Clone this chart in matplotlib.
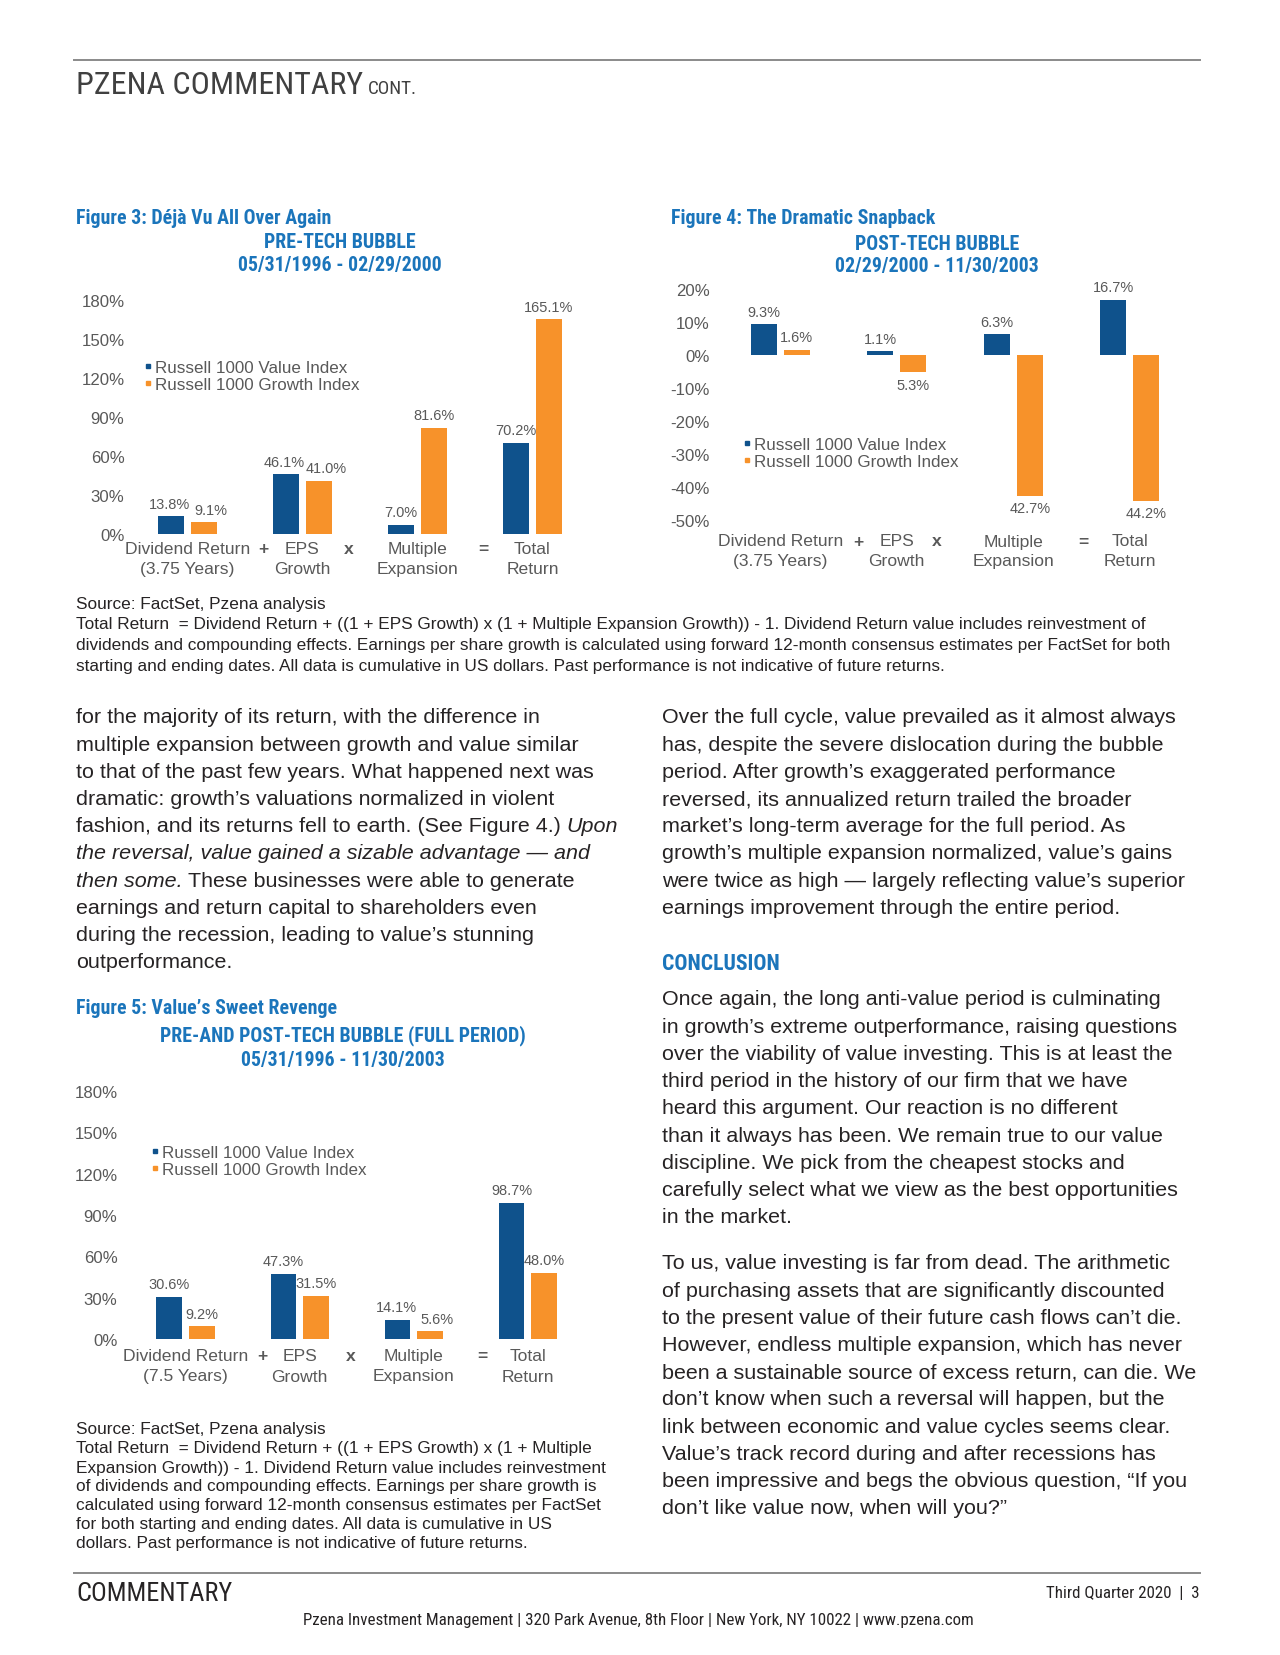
import matplotlib
matplotlib.use("Agg")
import matplotlib.pyplot as plt
from matplotlib import font_manager
from matplotlib.font_manager import FontProperties
from matplotlib.textpath import TextPath
from matplotlib.lines import Line2D
import matplotlib.transforms as mtransforms

# ---- data -------------------------------------------------------------
series_names = ["Russell 1000 Value Index", "Russell 1000 Growth Index"]
cat_top = ["Dividend Return", "EPS", "Multiple", "Total"]
cat_bottom_rest = ["Growth", "Expansion", "Return"]
operators = ["+", "x", "="]

pre_years = "(3.75 Years)"
pre_value = [13.8, 46.1, 7.0, 70.2]
pre_growth = [9.1, 41.0, 81.6, 165.1]
pre_ticks = [0, 30, 60, 90, 120, 150, 180]

post_years = "(3.75 Years)"
post_value = [9.3, 1.1, 6.3, 16.7]
post_growth = [1.6, -5.3, -42.7, -44.2]
post_ticks = [-50, -40, -30, -20, -10, 0, 10, 20]

full_years = "(7.5 Years)"
full_value = [30.6, 47.3, 14.1, 98.7]
full_growth = [9.2, 31.5, 5.6, 48.0]
full_ticks = [0, 30, 60, 90, 120, 150, 180]

left_text = [
    [("for the majority of its return, with the difference in", "normal")],
    [("multiple expansion between growth and value similar", "normal")],
    [("to that of the past few years. What happened next was", "normal")],
    [("dramatic: growth\u2019s valuations normalized in violent", "normal")],
    [("fashion, and its returns fell to earth. (See Figure 4.)", "normal"), ("Upon", "italic")],
    [("the reversal, value gained a sizable advantage \u2014 and", "italic")],
    [("then some.", "italic"), ("These businesses were able to generate", "normal")],
    [("earnings and return capital to shareholders even", "normal")],
    [("during the recession, leading to value\u2019s stunning", "normal")],
    [("outperformance.", "normal")],
]
right_para1 = [
    "Over the full cycle, value prevailed as it almost always",
    "has, despite the severe dislocation during the bubble",
    "period. After growth\u2019s exaggerated performance",
    "reversed, its annualized return trailed the broader",
    "market\u2019s long-term average for the full period. As",
    "growth\u2019s multiple expansion normalized, value\u2019s gains",
    "were twice as high \u2014 largely reflecting value\u2019s superior",
    "earnings improvement through the entire period.",
]
right_para2 = [
    "Once again, the long anti-value period is culminating",
    "in growth\u2019s extreme outperformance, raising questions",
    "over the viability of value investing. This is at least the",
    "third period in the history of our firm that we have",
    "heard this argument. Our reaction is no different",
    "than it always has been. We remain true to our value",
    "discipline. We pick from the cheapest stocks and",
    "carefully select what we view as the best opportunities",
    "in the market.",
]
right_para3 = [
    "To us, value investing is far from dead. The arithmetic",
    "of purchasing assets that are significantly discounted",
    "to the present value of their future cash flows can\u2019t die.",
    "However, endless multiple expansion, which has never",
    "been a sustainable source of excess return, can die. We",
    "don\u2019t know when such a reversal will happen, but the",
    "link between economic and value cycles seems clear.",
    "Value\u2019s track record during and after recessions has",
    "been impressive and begs the obvious question, \u201cIf you",
    "don\u2019t like value now, when will you?\u201d",
]
source_top = [
    "Source: FactSet, Pzena analysis",
    "Total Return  = Dividend Return + ((1 + EPS Growth) x (1 + Multiple Expansion Growth)) - 1. Dividend Return value includes reinvestment of",
    "dividends and compounding effects. Earnings per share growth is calculated using forward 12-month consensus estimates per FactSet for both",
    "starting and ending dates. All data is cumulative in US dollars. Past performance is not indicative of future returns.",
]
source_bottom = [
    "Source: FactSet, Pzena analysis",
    "Total Return  = Dividend Return + ((1 + EPS Growth) x (1 + Multiple",
    "Expansion Growth)) - 1. Dividend Return value includes reinvestment",
    "of dividends and compounding effects. Earnings per share growth is",
    "calculated using forward 12-month consensus estimates per FactSet",
    "for both starting and ending dates. All data is cumulative in US",
    "dollars. Past performance is not indicative of future returns.",
]

# ---- style ------------------------------------------------------------
W, H, DPI = 1280, 1656, 100
BLUE_BAR = "#0F528C"
ORANGE = "#F7922A"
TITLE_BLUE = "#1B75BB"
GREY = "#595959"
INK = "#262324"

names = {f.name for f in font_manager.fontManager.ttflist}
BODY = "Liberation Sans"
COND = next((n for n in ["Liberation Sans Narrow", "Roboto Condensed", "Open Sans Condensed"]
             if n in names), "Liberation Sans")


def fit(sample, px, family=BODY, weight="normal", style="normal"):
    fp = FontProperties(family=family, weight=weight, style=style, size=10)
    w = TextPath((0, 0), sample, prop=fp).get_extents().width
    return 10 * px / (w * DPI / 72)


fig = plt.figure(figsize=(W / DPI, H / DPI), dpi=DPI)
fig.patch.set_facecolor("white")
renderer = fig.canvas.get_renderer()


def put(x, y, s, **kw):
    kw.setdefault("va", "center")
    return fig.text(x / W, 1 - y / H, s, **kw)


def runs(x, y, parts, size, family=BODY, color=INK):
    gap = size * 0.27 * DPI / 72
    for s, style in parts:
        t = put(x, y, s, fontsize=size, family=family, style=style, color=color)
        x += t.get_window_extent(renderer).width + gap


def hline(y, x0=74, x1=1200):
    fig.add_artist(Line2D([x0 / W, x1 / W], [1 - y / H, 1 - y / H],
                          color="#8a8a8a", lw=1.4, transform=fig.transFigure))


# ---- page header / footer ---------------------------------------------
hline(61)
hs = fit("PZENA COMMENTARY", 284, COND)
t = put(76, 85, "PZENA COMMENTARY", fontsize=hs, family=COND, color="#404040")
x_end = 76 + t.get_window_extent(renderer).width + 5
put(x_end, 89, "CONT.", fontsize=hs * 0.6, family=COND, color="#404040")

hline(1574)
put(76, 1594, "COMMENTARY", fontsize=fit("COMMENTARY", 154, COND), family=COND, color=INK)
put(1200, 1594, "Third Quarter 2020  |  3", ha="right",
    fontsize=fit("Third Quarter 2020  |  3", 151, COND), family=COND, color=INK)
foot = "Pzena Investment Management | 320 Park Avenue, 8th Floor | New York, NY 10022 | www.pzena.com"
put(638, 1621, foot, ha="center", fontsize=fit(foot, 666, COND), family=COND, color=INK)

# ---- charts -----------------------------------------------------------
title_fs = fit("Figure 3: D\u00e9j\u00e0 Vu All Over Again", 253, COND, "bold")
tick_fs = fit("180%", 41)
val_fs = fit("81.6%", 40)
cat_fs = fit("Dividend Return", 123)
leg_fs = fit(series_names[0], 190)


def chart(box, ylim, ticks, value, growth, years, op_x, cat_y, legend_xy, pad):
    left, top, right, bottom = box
    ax = fig.add_axes([left / W, 1 - bottom / H, (right - left) / W, (bottom - top) / H])
    x = range(len(value))
    off, bw = 0.143, 0.224
    ax.bar([i - off for i in x], value, bw, color=BLUE_BAR)
    ax.bar([i + off for i in x], growth, bw, color=ORANGE)
    px_per_unit = (bottom - top) / (ylim[1] - ylim[0])
    for i in x:
        # push the two labels apart when they would sit at the same height
        close = abs(value[i] - growth[i]) * px_per_unit < 14 and value[i] * growth[i] > 0
        shifts = (-1, 5) if close else (0, 0)
        for v, sgn, dx in ((value[i], -1, shifts[0]), (growth[i], 1, shifts[1])):
            ax.annotate(f"{abs(v):.1f}%", (i + sgn * off, v),
                        xytext=(dx, 4 if v >= 0 else -4), textcoords="offset points",
                        ha="center", va="bottom" if v >= 0 else "top",
                        fontsize=val_fs, color=GREY, family=BODY)
    ax.set_xlim(-0.5, len(value) - 0.5)
    ax.set_ylim(*ylim)
    ax.set_yticks(ticks)
    ax.set_yticklabels([f"{v}%" for v in ticks], fontsize=tick_fs, color=GREY, family=BODY)
    ax.tick_params(length=0, pad=pad)
    ax.set_xticks([])
    for s in ax.spines.values():
        s.set_visible(False)
    ax.patch.set_alpha(0)

    tr = mtransforms.blended_transform_factory(ax.transData, fig.transFigure)
    bottoms = [years] + cat_bottom_rest
    for i in x:
        ax.text(i, 1 - cat_y / H, cat_top[i], transform=tr, ha="center", va="center",
                fontsize=cat_fs, color=GREY, family=BODY)
        ax.text(i, 1 - (cat_y + 20) / H, bottoms[i], transform=tr, ha="center", va="center",
                fontsize=cat_fs, color=GREY, family=BODY)
    for ox, op in zip(op_x, operators):
        ax.text(ox, 1 - cat_y / H, op, transform=tr, ha="center", va="center",
                fontsize=cat_fs, color=GREY, family=BODY, weight="bold")

    handles = [Line2D([0], [0], marker="s", ls="none", markersize=3.5, color=c)
               for c in (BLUE_BAR, ORANGE)]
    ax.legend(handles, series_names, loc="upper left", frameon=False,
              bbox_to_anchor=(legend_xy[0] / W, 1 - legend_xy[1] / H),
              bbox_transform=fig.transFigure, handlelength=0.5,
              handletextpad=0.15, labelspacing=0.12, borderpad=0, borderaxespad=0,
              prop={"family": BODY, "size": leg_fs}, labelcolor=GREY)
    return ax


def titles(x_title, y_title, x_center, sub1, sub2, name, y1, y2):
    put(x_title, y_title, name, fontsize=title_fs, family=COND, weight="bold", color=TITLE_BLUE)
    put(x_center, y1, sub1, ha="center", fontsize=title_fs, family=COND, weight="bold", color=TITLE_BLUE)
    put(x_center, y2, sub2, ha="center", fontsize=title_fs, family=COND, weight="bold", color=TITLE_BLUE)


# Figure 3
titles(76, 219, 340, "PRE-TECH BUBBLE", "05/31/1996 - 02/29/2000",
       "Figure 3: D\u00e9j\u00e0 Vu All Over Again", 243, 266)
chart((130, 301, 590, 535), (0, 180), pre_ticks, pre_value, pre_growth, pre_years,
      (0.66, 1.40, 2.57), 550, (144, 361), 4)

# Figure 4
titles(671, 219, 937, "POST-TECH BUBBLE", "02/29/2000 - 11/30/2003",
       "Figure 4: The Dramatic Snapback", 244, 267)
chart((722, 290, 1188, 521), (-50, 20), post_ticks, post_value, post_growth, post_years,
      (0.67, 1.34, 2.60), 542, (743, 438), 9)

# Figure 5
titles(76, 1009, 343, "PRE-AND POST-TECH BUBBLE (FULL PERIOD)", "05/31/1996 - 11/30/2003",
       "Figure 5: Value\u2019s Sweet Revenge", 1036, 1061)
chart((128.5, 1092, 585, 1340), (0, 180), full_ticks, full_value, full_growth, full_years,
      (0.67, 1.45, 2.60), 1357, (151, 1146), 8)

# ---- source notes -----------------------------------------------------
src_fs = fit(source_top[1], 1067)
for k, line in enumerate(source_top):
    put(76, 604 + k * 21, line, fontsize=src_fs, family=BODY, color=INK)
src2_fs = fit(source_bottom[1], 512)
for k, line in enumerate(source_bottom):
    put(76, 1430 + k * 19, line, fontsize=src2_fs, family=BODY, color=INK)

# ---- body text --------------------------------------------------------
body_fs = fit(left_text[0][0][0], 462)
LS = 27.2
for k, parts in enumerate(left_text):
    runs(76, 718 + k * LS, parts, body_fs)
for k, line in enumerate(right_para1):
    put(662, 718 + k * LS, line, fontsize=body_fs, family=BODY, color=INK)
put(662, 964, "CONCLUSION", fontsize=fit("CONCLUSION", 115, COND, "bold"),
    family=COND, weight="bold", color=TITLE_BLUE)
for k, line in enumerate(right_para2):
    put(662, 1000 + k * LS, line, fontsize=body_fs, family=BODY, color=INK)
for k, line in enumerate(right_para3):
    put(662, 1264 + k * LS, line, fontsize=body_fs, family=BODY, color=INK)

fig.savefig("out.png", dpi=DPI)
